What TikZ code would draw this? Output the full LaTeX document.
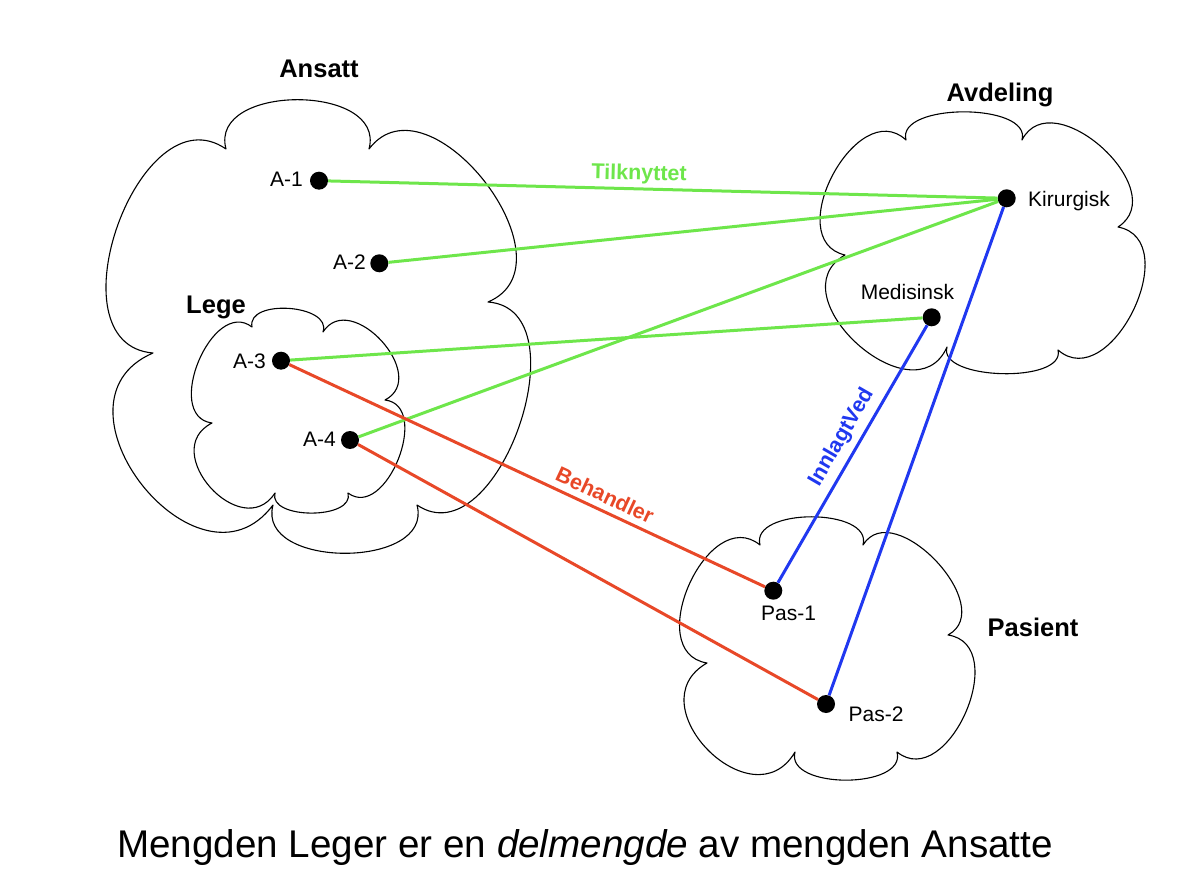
\documentclass[tikz,border=0pt]{standalone}
\usepackage{fontspec}
\setmainfont{Liberation Sans}
\usetikzlibrary{calc}
\definecolor{grn}{RGB}{110,230,75}
\definecolor{rd}{RGB}{232,72,40}
\definecolor{bl}{RGB}{32,56,240}
\newcommand\bump[4]{.. controls ($#1!#3!#4:#2$) and ($#2!#3!-#4:#1$) .. #2}
\begin{document}
\begin{tikzpicture}[x=1pt,y=-1pt,
  cloud/.style={draw=black, line width=1.1pt, line join=round},
  dot/.style={circle, fill=black, inner sep=0pt, minimum size=18pt},
  lbl/.style={font=\fontsize{21}{25}\selectfont, inner sep=0pt},
  ttl/.style={font=\fontsize{25.5}{30}\selectfont\bfseries, inner sep=0pt, anchor=base},
  elbl/.style={font=\fontsize{21.5}{26}\selectfont\bfseries, inner sep=0pt, sloped},
  glink/.style={draw=grn, line width=3pt},
  rlink/.style={draw=rd, line width=3pt},
  blink/.style={draw=bl, line width=3pt}]
\useasboundingbox (0,0) rectangle (1178,882);
% clouds
\draw[cloud] (226,149) \bump{(226,149)}{(369,149)}{0.476}{105} \bump{(369,149)}{(488,302)}{0.508}{105} \bump{(488,302)}{(417,505)}{0.452}{105} \bump{(417,505)}{(273,505)}{0.463}{105} \bump{(273,505)}{(153,353)}{0.644}{105} \bump{(153,353)}{(226,149)}{0.486}{105} -- cycle;
\draw[cloud] (252,327) \bump{(252,327)}{(323,332)}{0.41}{105} \bump{(323,332)}{(385,400)}{0.559}{105} \bump{(385,400)}{(348,493)}{0.472}{105} \bump{(348,493)}{(275,493)}{0.38}{105} \bump{(275,493)}{(212,423)}{0.65}{105} \bump{(212,423)}{(252,327)}{0.48}{105} -- cycle;
\draw[cloud] (906,140) \bump{(906,140)}{(1022,140)}{0.335}{105} \bump{(1022,140)}{(1118,227)}{0.513}{105} \bump{(1118,227)}{(1058,350)}{0.507}{105} \bump{(1058,350)}{(947,347)}{0.313}{105} \bump{(947,347)}{(845,255)}{0.59}{108} \bump{(845,255)}{(906,140)}{0.513}{105} -- cycle;
\draw[cloud] (760,545) \bump{(760,545)}{(863,545)}{0.378}{105} \bump{(863,545)}{(948,635)}{0.47}{105} \bump{(948,635)}{(897,752)}{0.51}{105} \bump{(897,752)}{(795,752)}{0.381}{105} \bump{(795,752)}{(707,663)}{0.667}{105} \bump{(707,663)}{(760,545)}{0.517}{105} -- cycle;
% titles
\node[ttl] (tansatt) at (319,78) {Ansatt};
\node[ttl] (tlege) at (216,314) {Lege};
\node[ttl] (tavd) at (1000,102) {Avdeling};
\node[ttl] (tpas) at (1033,636) {Pasient};
% dots
\node[dot] (a1) at (319,180.7) {};
\node[dot] (a2) at (379.3,263.3) {};
\node[dot] (a3) at (281,360.7) {};
\node[dot] (a4) at (350,440) {};
\node[dot] (kir) at (1006.7,198.3) {};
\node[dot] (med) at (931.7,317.3) {};
\node[dot] (p1) at (773.3,590.7) {};
\node[dot] (p2) at (826,704) {};
% labels
\node[lbl, anchor=base east] (la1) at (303,186.7) {A-1};
\node[lbl, anchor=base east] (la2) at (366,270) {A-2};
\node[lbl, anchor=base east] (la3) at (266,368.3) {A-3};
\node[lbl, anchor=base east] (la4) at (336,446.7) {A-4};
\node[lbl, anchor=base west] (lkir) at (1028,207) {Kirurgisk};
\node[lbl, anchor=base] (lmed) at (907.5,299.5) {Medisinsk};
\node[lbl, anchor=base] (lp1) at (788.5,620) {Pas-1};
\node[lbl, anchor=base] (lp2) at (876,721.5) {Pas-2};
% connectors
\draw[glink] (a1) -- node[elbl, text=grn, pos=0.464, above=3pt] (ltilk) {Tilknyttet} (kir);
\draw[glink] (a2) -- (kir);
\draw[glink] (a4) -- (kir);
\draw[glink] (a3) -- (med);
\draw[rlink] (a3) -- node[elbl, text=rd, pos=0.65, above=6pt] (lbeh) {Behandler} (p1);
\draw[rlink] (a4) -- (p2);
\draw[blink] (p1) -- node[elbl, text=bl, pos=0.53, above=6pt] (linn) {InnlagtVed} (med);
\draw[blink] (p2) -- (kir);
% caption
\node[font=\fontsize{38.6}{46}\selectfont, inner sep=0pt, anchor=base] (cap) at (585,857) {Mengden Leger er en \textit{delmengde} av mengden Ansatte};
\end{tikzpicture}
\end{document}
